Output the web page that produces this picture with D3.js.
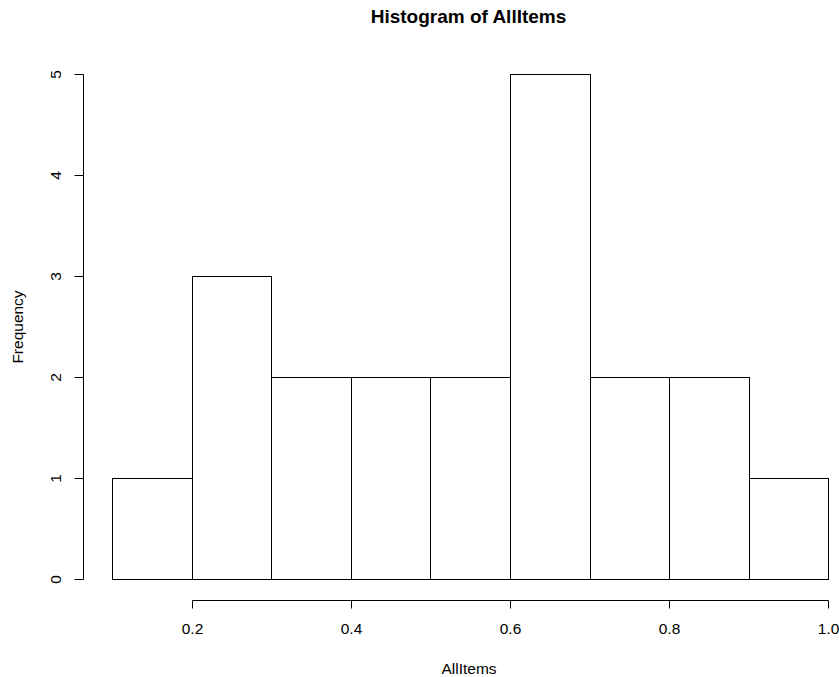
<!DOCTYPE html>
<html>
<head>
<meta charset="utf-8">
<script src="https://cdn.jsdelivr.net/npm/d3@7"></script>
<style>
  html, body { margin: 0; padding: 0; background: #fff; }
  text { font-family: "Liberation Sans", Arial, sans-serif; fill: #000; }
</style>
</head>
<body>
<svg id="chart" width="839" height="677"></svg>
<script>
// Histogram bins (left edge, right edge) and counts
const binStarts = [0.1, 0.2, 0.3, 0.4, 0.5, 0.6, 0.7, 0.8, 0.9];
const binEnds   = [0.2, 0.3, 0.4, 0.5, 0.6, 0.7, 0.8, 0.9, 1.0];
const counts    = [1, 3, 2, 2, 2, 5, 2, 2, 1];
const xTicks = [0.2, 0.4, 0.6, 0.8, 1.0];
const yTicks = [0, 1, 2, 3, 4, 5];

const svg = d3.select("#chart");
const labelFont = 15.5;

const x = d3.scaleLinear().domain([0.2, 1.0]).range([191.7, 828.3]);
const y = d3.scaleLinear().domain([0, 5]).range([579, 74.3]);

const bins = binStarts.map((s, i) => ({ x0: s, x1: binEnds[i], n: counts[i] }));

// Bars
svg.append("g").selectAll("rect")
  .data(bins)
  .join("rect")
  .attr("x", d => Math.round(x(d.x0)) + 0.5)
  .attr("y", d => Math.round(y(d.n)) + 0.5)
  .attr("width", d => Math.round(x(d.x1)) - Math.round(x(d.x0)))
  .attr("height", d => Math.round(y(0)) - Math.round(y(d.n)))
  .attr("fill", "none")
  .attr("stroke", "#000")
  .attr("stroke-width", 1);

// X axis, offset below the plot and spanning first to last tick
const xAxis = d3.axisBottom(x)
  .tickValues(xTicks)
  .tickFormat(d3.format(".1f"))
  .tickSize(8)
  .tickSizeOuter(0)
  .tickPadding(14);
const gx = svg.append("g")
  .attr("transform", "translate(0.5,600.5)")
  .call(xAxis);
gx.select(".domain").attr("d", `M${Math.round(x(0.2))},0H${Math.round(x(1.0))}`);
gx.selectAll(".tick line").attr("stroke", "#000");
gx.selectAll(".tick text").attr("font-size", labelFont).attr("font-family", "Liberation Sans, Arial, sans-serif");
gx.selectAll(".tick").attr("transform", d => `translate(${Math.round(x(d))},0)`);

// Y axis with rotated tick labels
const yAxis = d3.axisLeft(y)
  .tickValues(yTicks)
  .tickFormat(d3.format("d"))
  .tickSize(9)
  .tickSizeOuter(0);
const gy = svg.append("g")
  .attr("transform", "translate(83.5,0.5)")
  .call(yAxis);
gy.select(".domain").attr("d", `M0,${Math.round(y(0))}V${Math.round(y(5))}`);
gy.selectAll(".tick").attr("transform", d => `translate(0,${Math.round(y(d))})`);
gy.selectAll(".tick text")
  .attr("font-size", labelFont)
  .attr("font-family", "Liberation Sans, Arial, sans-serif")
  .attr("x", null)
  .attr("text-anchor", "middle")
  .attr("transform", "translate(-28.5,0) rotate(-90)")
  .attr("dy", "0.36em");

// Title and axis labels
svg.append("text")
  .attr("x", 468.5).attr("y", 23)
  .attr("text-anchor", "middle")
  .attr("font-size", 19)
  .attr("font-weight", "bold")
  .text("Histogram of AllItems");

svg.append("text")
  .attr("x", 469).attr("y", 674)
  .attr("text-anchor", "middle")
  .attr("font-size", labelFont)
  .text("AllItems");

svg.append("text")
  .attr("transform", "translate(23,327) rotate(-90)")
  .attr("text-anchor", "middle")
  .attr("font-size", labelFont)
  .text("Frequency");
</script>
</body>
</html>
